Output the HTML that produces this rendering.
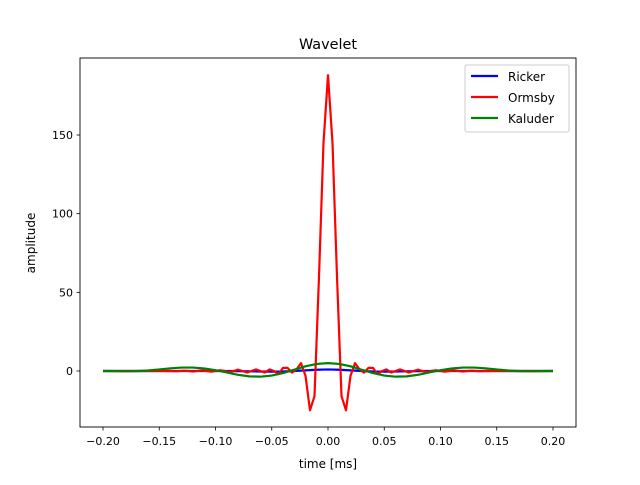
<!DOCTYPE html>
<html><head><meta charset="utf-8"><style>
body{margin:0;background:#fff;font-family:"Liberation Sans","DejaVu Sans",sans-serif}
</style></head><body>
<svg id="c" width="640" height="480" xmlns="http://www.w3.org/2000/svg" font-family="DejaVu Sans, Liberation Sans, sans-serif">
<rect width="640" height="480" fill="#fff"/>
<text x="328" y="49" text-anchor="middle" font-size="14.4">Wavelet</text>
<g id="plot"></g>
<rect x="80" y="58" width="496" height="369" fill="none" stroke="#000" stroke-width="0.9"/>
<text x="328" y="468" text-anchor="middle" font-size="12">time [ms]</text>
<text transform="translate(35,243) rotate(-90)" text-anchor="middle" font-size="12">amplitude</text>
<g>
<rect x="465" y="65" width="104" height="67" rx="2" fill="#fff" stroke="#ccc"/>
<line x1="471" y1="76" x2="498" y2="76" stroke="#0000ff" stroke-width="2.2"/><text x="508" y="81" font-size="12">Ricker</text>
<line x1="471" y1="97" x2="498" y2="97" stroke="#ff0000" stroke-width="2.2"/><text x="508" y="102" font-size="12">Ormsby</text>
<line x1="471" y1="118" x2="498" y2="118" stroke="#008000" stroke-width="2.2"/><text x="508" y="123" font-size="12">Kaluder</text>
</g>
</svg>
<script>
const xTicks=[-0.20,-0.15,-0.10,-0.05,0.00,0.05,0.10,0.15,0.20];
const xTickLabels=["−0.20","−0.15","−0.10","−0.05","0.00","0.05","0.10","0.15","0.20"];
const yTicks=[0,50,100,150];
const ormsbyHalf=[188,145,60,-16,-25,-3,5,1,-1,2,2,-2,0,1,-1,0,1,0,-1,0,0.8,0,-0.6,0,0.5,0,-0.4,0,0.3,0,-0.3,0,0.2,0,-0.2,0,0.1,0,0,0,0,0,0,0,0,0,0,0,0,0,0];
const ormsbyDt=0.004;
const rickerHalf=[1,0.8,0.4,0,-0.3,-0.4,-0.3,-0.2,-0.1,0,0,0,0,0,0,0,0,0,0,0,0];
const kaluderHalf=[5,4.5,3,0.8,-1.3,-2.9,-3.6,-3.4,-2.4,-0.9,0.5,1.6,2.2,2.2,1.7,1,0.3,-0.1,-0.2,-0.1,0];
const smoothDt=0.01;
const X=t=>328+t*1125, Y=v=>371-v*1.5733;
const NS="http://www.w3.org/2000/svg";
const g=document.getElementById('plot');
function mk(tag,attrs){const e=document.createElementNS(NS,tag);for(const k in attrs)e.setAttribute(k,attrs[k]);return e;}
xTicks.forEach((t,i)=>{
 const l=mk('line',{x1:X(t),x2:X(t),y1:427,y2:430.5,stroke:'#000','stroke-width':0.8});
 
 
 g.appendChild(l);
 const tx=mk('text',{x:X(t),y:445,'text-anchor':'middle','font-size':11});
 
 
 tx.textContent=xTickLabels[i];g.appendChild(tx);
});
yTicks.forEach(v=>{
 const l=mk('line',{x1:76.5,x2:80,y1:Y(v),y2:Y(v),stroke:'#000','stroke-width':0.8});
 
 
 g.appendChild(l);
 const tx=mk('text',{x:73,y:Y(v)+4,'text-anchor':'end','font-size':11});
 
 
 tx.textContent=String(v);g.appendChild(tx);
});
function full(half,dt){const pts=[];for(let i=half.length-1;i>0;i--)pts.push([-i*dt,half[i]]);for(let i=0;i<half.length;i++)pts.push([i*dt,half[i]]);return pts.filter(p=>Math.abs(p[0])<=0.2001);}
function line(half,dt,color,name){
 const d=full(half,dt).map((p,i)=>(i?'L':'M')+X(p[0]).toFixed(2)+','+Y(p[1]).toFixed(2)).join('');
 const p=mk('path',{d:d,fill:'none',stroke:color,'stroke-width':2.2,'stroke-linejoin':'round'});
 
 
 g.appendChild(p);
}
line(rickerHalf,smoothDt,'#0000ff','ricker-line');
line(ormsbyHalf,ormsbyDt,'#ff0000','ormsby-line');
line(kaluderHalf,smoothDt,'#008000','kaluder-line');
</script>
</body></html>
